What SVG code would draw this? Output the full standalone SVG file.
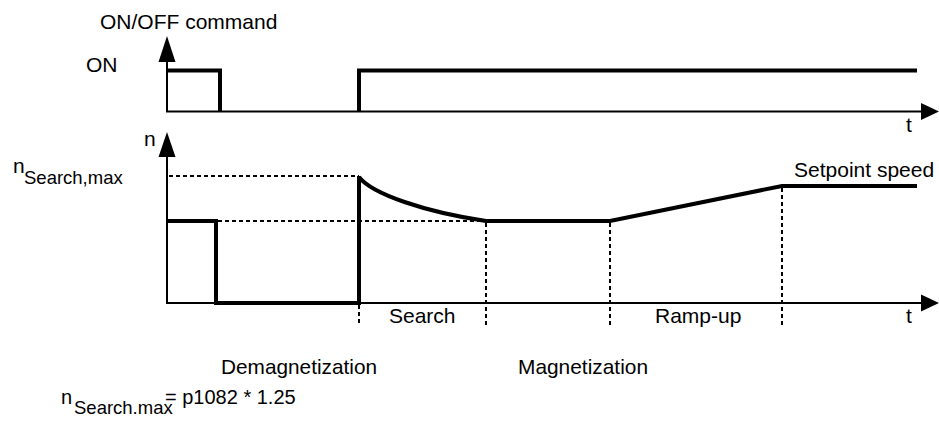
<svg xmlns="http://www.w3.org/2000/svg" width="939" height="422" viewBox="0 0 939 422">
<style>
text{font-family:"Liberation Sans",Arial,sans-serif;fill:#000;font-size:21px}
.sub{font-size:18.5px}
.axis{stroke:#000;stroke-width:2;fill:none}
.sig{stroke:#000;stroke-width:4;fill:none;stroke-linejoin:miter;stroke-linecap:butt}
.dash{stroke:#000;stroke-width:2;fill:none;stroke-dasharray:4 3}
.f{font-size:20px}
</style>
<rect width="939" height="422" fill="#fff"/>
<g id="connectors">
<g id="axes">
<polyline class="axis" points="167,60 167,111.5 924,111.5"/>
<polygon points="167,36 158.5,62 175.5,62"/>
<polygon points="939,111.5 921,103 921,120"/>
<polyline class="axis" points="167,155 167,303 924,303"/>
<polygon points="167,132 158.5,157 175.5,157"/>
<polygon points="939,303 921,294.5 921,311.5"/>
</g>
<g id="dashed-guides">
<line class="dash" x1="169" y1="176" x2="359" y2="176"/>
<line class="dash" x1="218" y1="221" x2="486" y2="221"/>
<line class="dash" x1="359" y1="305" x2="359" y2="325"/>
<line class="dash" x1="486" y1="223" x2="486" y2="325"/>
<line class="dash" x1="610" y1="223" x2="610" y2="325"/>
<line class="dash" x1="782" y1="188" x2="782" y2="325"/>
</g>
<g id="on-off-signal">
<polyline class="sig" points="167,70.5 220,70.5 220,111.5"/>
<polyline class="sig" points="359,111.5 359,70.5 917,70.5"/>
</g>
<g id="speed-signal">
<polyline class="sig" points="167,221 216,221 216,303 359,303 359,176"/>
<path class="sig" d="M359,177 C372,194 425,212 486,221 L610,221 L782,186 L917,186"/>
</g>
</g>
<g id="label-onoff"><text x="100" y="29">ON/OFF command</text></g>
<g id="label-on"><text x="86" y="72">ON</text></g>
<g id="label-t1"><text x="906" y="132">t</text></g>
<g id="label-n"><text x="144" y="146">n</text></g>
<g id="label-nsearch"><text x="13" y="173">n<tspan class="sub" x="24" y="184">Search,max</tspan></text></g>
<g id="label-setpoint"><text x="794" y="177">Setpoint speed</text></g>
<g id="label-search"><text x="389" y="323">Search</text></g>
<g id="label-rampup"><text x="655" y="323">Ramp-up</text></g>
<g id="label-t2"><text x="906" y="323">t</text></g>
<g id="label-demag"><text x="221" y="374" textLength="156" lengthAdjust="spacingAndGlyphs">Demagnetization</text></g>
<g id="label-mag"><text x="518" y="374" textLength="130" lengthAdjust="spacingAndGlyphs">Magnetization</text></g>
<g id="label-formula"><text class="f" x="61" y="404">n<tspan class="sub" x="74" y="414">Search.max</tspan><tspan x="165" y="404">= p1082 * 1.25</tspan></text></g>
</svg>
